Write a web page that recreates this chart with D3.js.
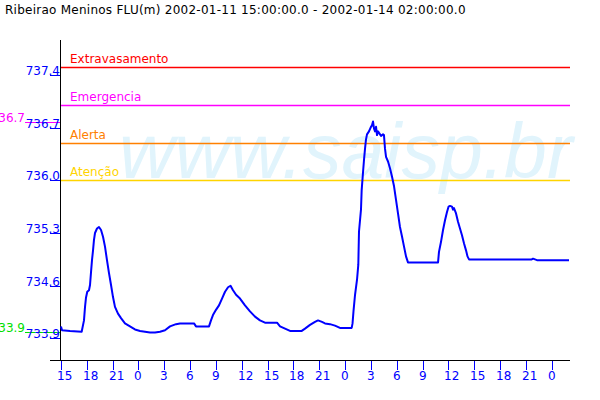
<!DOCTYPE html>
<html><head><meta charset="utf-8">
<script src="https://cdn.jsdelivr.net/npm/d3@7"></script>
<style>html,body{margin:0;padding:0;background:#fff;}svg{display:block;}</style>
</head><body>
<svg id="chart" width="600" height="400"></svg>
<script>
// ---- data ----
const title = "Ribeirao Meninos FLU(m) 2002-01-11 15:00:00.0 - 2002-01-14 02:00:00.0";
const startTime = new Date(2002, 0, 11, 15, 0, 0);
const endTime = new Date(2002, 0, 14, 2, 0, 0);
// hours elapsed since start
const hours = [0,0.12,1.05,2.4,2.67,2.79,2.9,3.05,3.25,3.37,3.48,3.6,3.72,3.83,3.95,4.18,4.41,4.65,4.88,5.11,5.34,5.57,5.81,6.04,6.27,6.62,6.97,7.43,8.01,8.59,9.18,9.76,10.34,10.92,11.5,12.08,12.66,13.36,13.82,15.45,15.68,17.19,17.42,17.65,18.0,18.35,18.7,19.05,19.4,19.69,19.98,20.33,20.79,21.37,21.95,22.53,23.11,23.69,25.09,25.44,26.02,26.6,27.96,28.34,28.92,29.5,29.85,30.31,30.66,31.24,31.82,32.4,33.76,33.86,33.97,34.15,34.38,34.53,34.61,34.84,34.92,35.08,35.19,35.31,35.42,35.54,35.77,36.0,36.12,36.24,36.35,36.47,36.59,36.7,36.82,37.05,37.17,37.4,37.51,37.63,37.75,37.98,38.21,38.44,38.68,38.91,39.14,39.37,39.61,39.84,40.07,40.3,43.79,43.9,44.13,44.37,44.6,44.83,45.01,45.18,45.41,45.53,45.64,45.88,46.11,46.34,46.57,46.81,47.04,47.21,47.39,47.74,54.67,54.82,55.05,55.28,59];
// water level (m)
const levels = [734.06,734.01,734.00,733.99,734.14,734.32,734.44,734.52,734.54,734.61,734.77,734.94,735.07,735.21,735.30,735.36,735.38,735.34,735.25,735.12,734.94,734.77,734.61,734.45,734.32,734.23,734.17,734.10,734.06,734.02,734.00,733.99,733.98,733.98,733.99,734.01,734.06,734.09,734.10,734.10,734.06,734.06,734.14,734.21,734.28,734.34,734.43,734.52,734.58,734.60,734.54,734.48,734.43,734.34,734.26,734.19,734.14,734.11,734.11,734.06,734.03,734.00,734.00,734.03,734.08,734.12,734.14,734.12,734.10,734.09,734.07,734.04,734.04,734.10,734.26,734.48,734.68,734.88,735.32,735.61,735.87,736.11,736.27,736.42,736.54,736.61,736.65,736.71,736.73,736.78,736.69,736.65,736.71,736.60,736.65,736.61,736.59,736.61,736.60,736.42,736.31,736.25,736.16,736.05,735.92,735.74,735.56,735.38,735.25,735.12,734.99,734.91,734.91,735.05,735.18,735.34,735.47,735.58,735.65,735.66,735.65,735.61,735.63,735.56,735.45,735.36,735.27,735.16,735.07,734.99,734.95,734.95,734.95,734.96,734.95,734.94,734.94];
const yTickValues = [733.9, 734.6, 735.3, 736.0, 736.7, 737.4];
const yDomain = [733.614, 737.863];
const thresholdNames = ["Extravasamento", "Emergencia", "Alerta", "Atenção"];
const thresholdValues = [737.5, 737.0, 736.5, 736.0];
const thresholdColors = ["#ff0000", "#ff00ff", "#ff8000", "#ffd400"];
const watermark = "www.saisp.br";

// ---- layout ----
const svg = d3.select("#chart");
const font = "DejaVu Sans, Verdana, sans-serif";
const L = 60, R = 569, T = 40, B = 360;

const x = d3.scaleTime().domain([startTime, endTime]).range([61, R]);
const y = d3.scaleLinear().domain(yDomain).range([B, T]);

const data = hours.map((h, i) => ({t: new Date(startTime.getTime() + h * 3600e3), v: levels[i]}));

// watermark
svg.append("text").attr("x", 119).attr("y", 178)
  .attr("font-family", "Liberation Sans, Arial, sans-serif").attr("font-style", "italic")
  .attr("font-size", 77).attr("fill", "#e1f4fc").text(watermark);

// title
svg.append("text").attr("x", 5).attr("y", 14).attr("font-family", font).attr("font-size", 12)
  .attr("letter-spacing", 0.25).attr("fill", "#000").text(title);

// threshold lines
thresholdValues.forEach((v, i) => {
  const yy = Math.round(y(v)) + 0.5;
  svg.append("line").attr("x1", L).attr("x2", 570).attr("y1", yy).attr("y2", yy)
    .attr("stroke", thresholdColors[i]).attr("stroke-width", 1.3);
  svg.append("text").attr("x", 70).attr("y", yy - 4.5).attr("font-family", font).attr("font-size", 12)
    .attr("fill", thresholdColors[i]).text(thresholdNames[i]);
});

// min / max markers
const vMax = d3.max(levels), vMin = d3.min(levels);
const fmt1 = v => (Math.floor(v * 10) / 10).toFixed(1);
[[vMax, "#ff00ff"], [vMin, "#00e000"]].forEach(([v, c]) => {
  const yy = Math.round(y(v)) + 0.5;
  svg.append("line").attr("x1", 25).attr("x2", L).attr("y1", yy).attr("y2", yy)
    .attr("stroke", c).attr("stroke-width", 1);
  svg.append("text").attr("x", 25).attr("y", yy - 0.5).attr("text-anchor", "end")
    .attr("font-family", font).attr("font-size", 12).attr("fill", c).text(fmt1(v));
});

// y axis ticks + labels
const yAxis = svg.append("g");
yTickValues.forEach(v => {
  const yy = Math.round(y(v)) + 0.5;
  yAxis.append("line").attr("x1", 50).attr("x2", L).attr("y1", yy).attr("y2", yy)
    .attr("stroke", "#0000ff").attr("stroke-width", 1);
  yAxis.append("text").attr("x", L).attr("y", yy - 1).attr("text-anchor", "end")
    .attr("font-family", font).attr("font-size", 12).attr("fill", "#0000ff").text(v.toFixed(1));
});

// x axis ticks + labels
const xTicks = x.ticks(d3.timeHour.every(3));
const xAxis = svg.append("g");
xTicks.forEach(t => {
  const xx = Math.round(x(t)) + 0.5;
  xAxis.append("line").attr("x1", xx).attr("x2", xx).attr("y1", B).attr("y2", B + 10)
    .attr("stroke", "#0000ff").attr("stroke-width", 1);
  xAxis.append("text").attr("x", xx - 4.5).attr("y", 380)
    .attr("font-family", font).attr("font-size", 12).attr("fill", "#0000ff").text(d3.timeFormat("%-H")(t));
});

// axis lines
svg.append("line").attr("x1", L + 0.5).attr("x2", L + 0.5).attr("y1", T).attr("y2", B)
  .attr("stroke", "#000").attr("stroke-width", 1);
svg.append("line").attr("x1", 50).attr("x2", 570).attr("y1", B + 0.5).attr("y2", B + 0.5)
  .attr("stroke", "#000").attr("stroke-width", 1);

// data line
svg.append("path").datum(data)
  .attr("d", d3.line().x(d => x(d.t)).y(d => y(d.v)))
  .attr("fill", "none").attr("stroke", "#0000ff").attr("stroke-width", 2).attr("stroke-linejoin", "round");
</script>
</body></html>
